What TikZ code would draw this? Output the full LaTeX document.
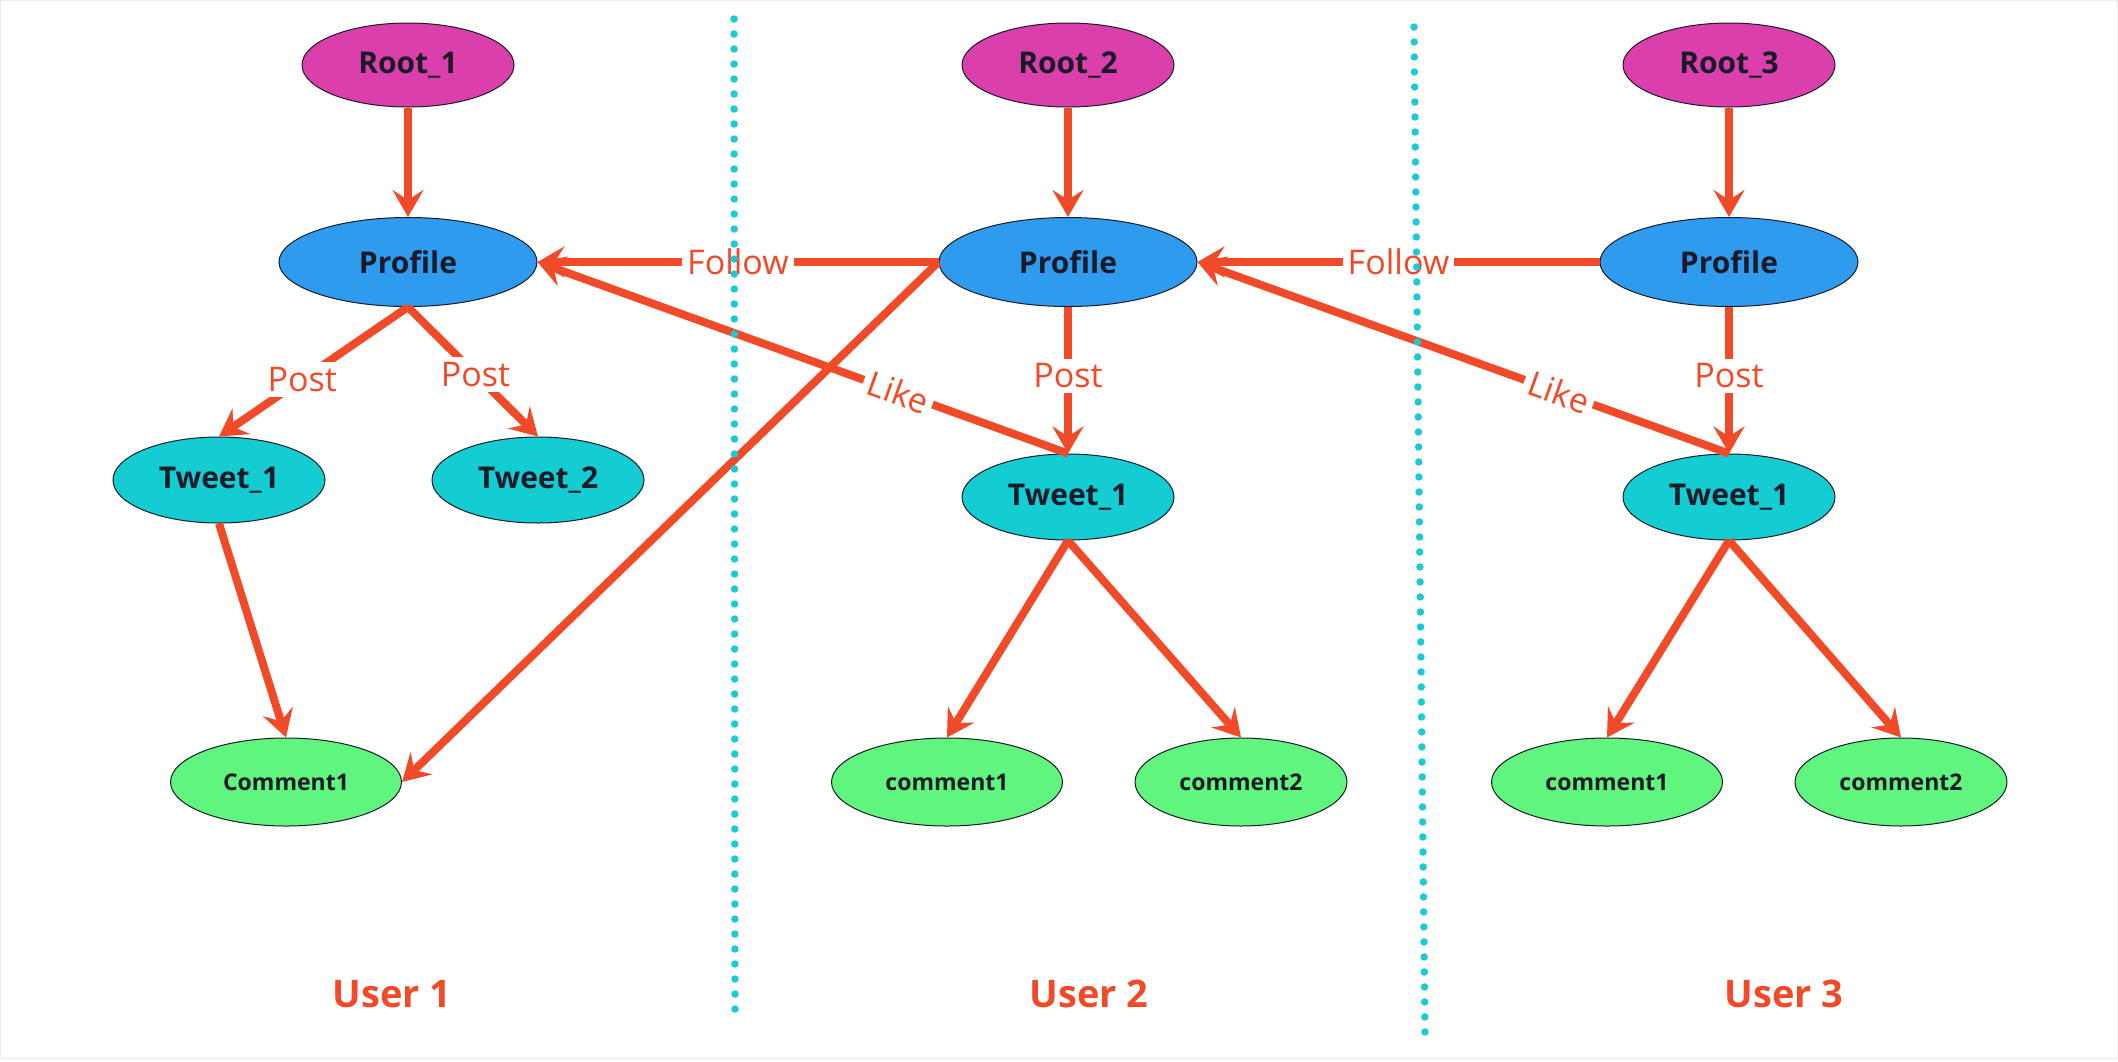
\documentclass[tikz,border=0pt]{standalone}
\usepackage{fontspec}
\setmainfont{Open Sans}
\usetikzlibrary{shapes.geometric,arrows.meta}
\definecolor{edgec}{HTML}{F04A28}
\definecolor{rootc}{HTML}{DB3FAB}
\definecolor{profc}{HTML}{2F9BEF}
\definecolor{tweetc}{HTML}{14CDD3}
\definecolor{commc}{HTML}{5FF57E}
\definecolor{dotc}{HTML}{1ACBD5}
\definecolor{txtc}{HTML}{1A1A28}
\tikzset{
  base/.style={ellipse, draw=txtc, line width=1pt, inner sep=0pt, text=txtc, font=\fontsize{30}{36}\selectfont\bfseries},
  rootn/.style={base, fill=rootc, minimum width=212pt, minimum height=84pt},
  profn/.style={base, fill=profc, minimum width=258pt, minimum height=89pt},
  tweetn/.style={base, fill=tweetc, minimum width=212pt, minimum height=86pt},
  commn/.style={base, fill=commc, minimum width=231pt, minimum height=88pt, font=\fontsize{23}{28}\selectfont\bfseries},
  commw/.style={commn, minimum width=212pt},
  edge/.style={draw=edgec, line width=8pt, -{Stealth[length=27pt,width=31pt,inset=10pt]}},
  elab/.style={fill=white, text=edgec, inner sep=5pt, font=\fontsize{34}{40}\selectfont},
  userlab/.style={text=edgec, font=\fontsize{38}{44}\selectfont\bfseries},
  sep/.style={draw=dotc, line width=7.5pt, line cap=round, dash pattern=on 0pt off 15pt}
}
\begin{document}
\begin{tikzpicture}[x=1pt,y=-1pt]
\useasboundingbox (0,0) rectangle (2118,1061);
\draw[black!7, line width=1pt] (0.5,0.5) rectangle (2117.5,1058);
% user 1
\node[rootn] (r1) at (408,65) {Root\_1};
\node[profn] (p1) at (408,262) {Profile};
\node[tweetn] (t11) at (219,480) {Tweet\_1};
\node[tweetn] (t12) at (538,480) {Tweet\_2};
\node[commn] (c11) at (286,782) {Comment1};
% user 2
\node[rootn] (r2) at (1068,65) {Root\_2};
\node[profn] (p2) at (1068,262) {Profile};
\node[tweetn] (t2) at (1068,497) {Tweet\_1};
\node[commn] (c21) at (947,782) {comment1};
\node[commw] (c22) at (1241,782) {comment2};
% user 3
\node[rootn] (r3) at (1729,65) {Root\_3};
\node[profn] (p3) at (1729,262) {Profile};
\node[tweetn] (t3) at (1729,497) {Tweet\_1};
\node[commn] (c31) at (1607,782) {comment1};
\node[commw] (c32) at (1901,782) {comment2};
% labels
\node[userlab] (u1) at (392,994) {User 1};
\node[userlab] (u2) at (1089,994) {User 2};
\node[userlab] (u3) at (1784,994) {User 3};
% edges
\draw[edge] (r1.south) -- (p1.north);
\draw[edge] (r2.south) -- (p2.north);
\draw[edge] (r3.south) -- (p3.north);
\draw[edge] (p1.south) -- node[elab, pos=0.56] {Post} (t11.north);
\draw[edge] (p1.south) -- node[elab, pos=0.52] {Post} (t12.north);
\draw[edge] (t11.south) -- (c11.north);
\draw[edge] (p2.west) -- (c11.east);
\draw[edge] (p2.west) -- node[elab, pos=0.5] {Follow} (p1.east);
\draw[edge] (t2.north) -- node[elab, pos=0.32, sloped] {Like} (p1.east);
\draw[edge] (p2.south) -- node[elab, pos=0.47] {Post} (t2.north);
\draw[edge] (t2.south) -- (c21.north);
\draw[edge] (t2.south) -- (c22.north);
\draw[edge] (p3.west) -- node[elab, pos=0.5] {Follow} (p2.east);
\draw[edge] (t3.north) -- node[elab, pos=0.32, sloped] {Like} (p2.east);
\draw[edge] (p3.south) -- node[elab, pos=0.47] {Post} (t3.north);
\draw[edge] (t3.south) -- (c31.north);
\draw[edge] (t3.south) -- (c32.north);
% separators
\coordinate (s1a) at (734,19);
\coordinate (s1b) at (735,1023);
\coordinate (s2a) at (1414,27);
\coordinate (s2b) at (1425,1033);
\draw[sep] (s1a) -- (s1b);
\draw[sep] (s2a) -- (s2b);
\end{tikzpicture}
\end{document}
